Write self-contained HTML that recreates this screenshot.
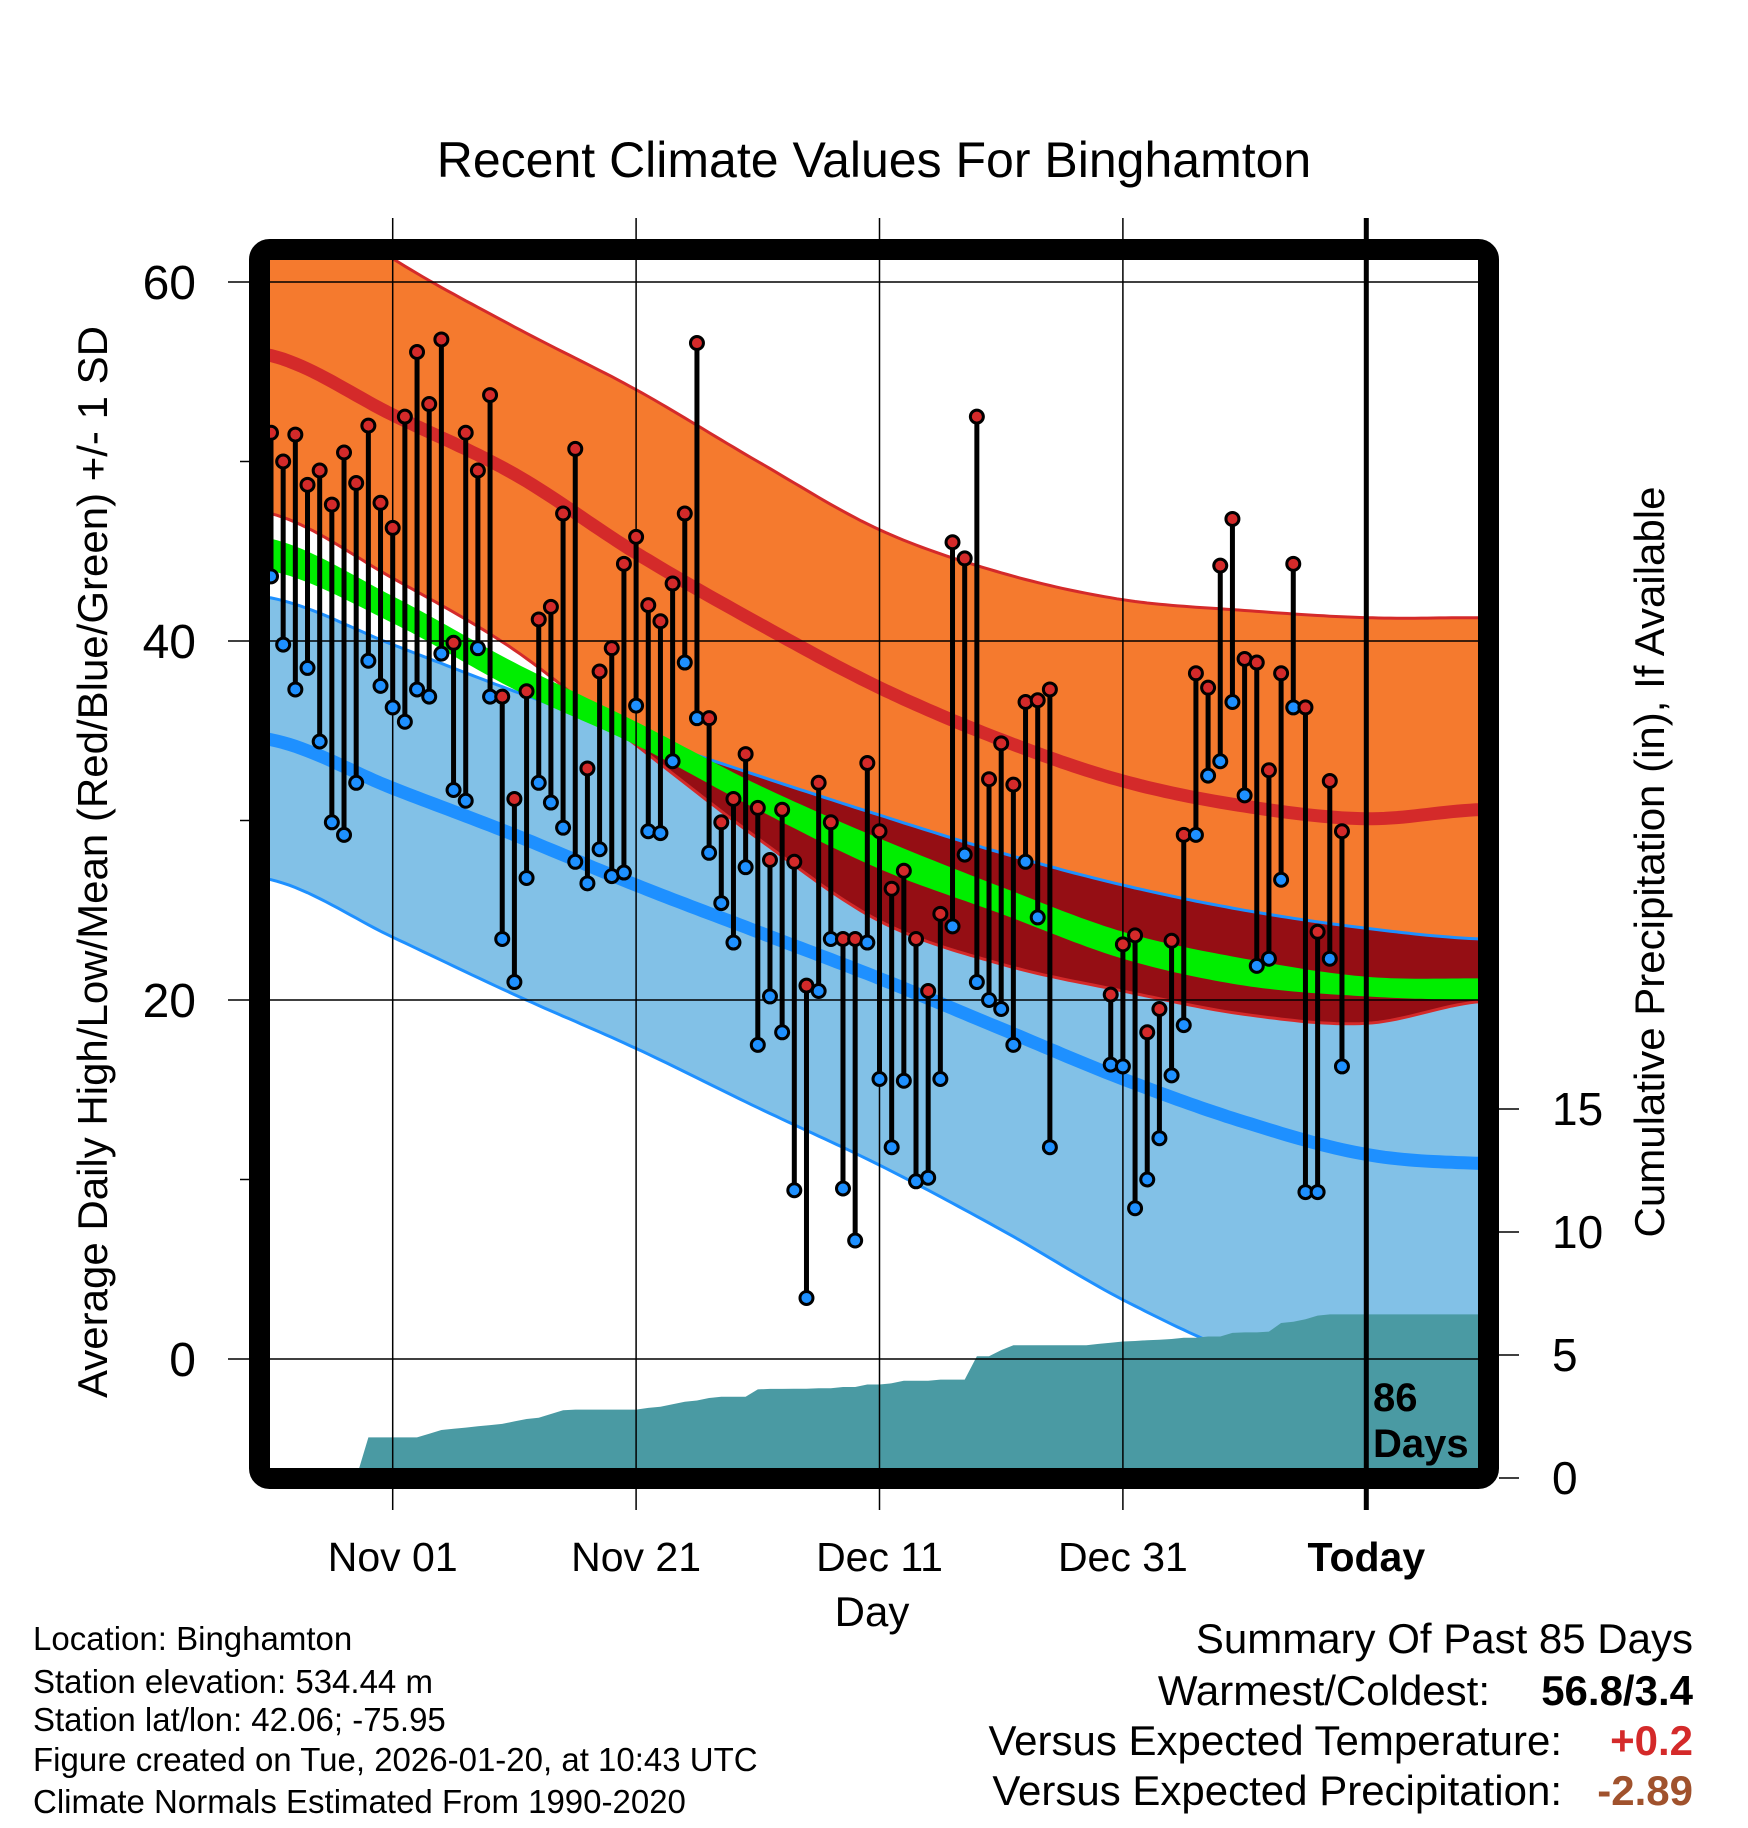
<!DOCTYPE html>
<html><head><meta charset="utf-8"><title>Recent Climate Values For Binghamton</title>
<style>
html,body{margin:0;padding:0;background:#fff;}
svg{display:block;font-family:"Liberation Sans",Arial,sans-serif;}
</style></head>
<body>
<svg id="chart" width="1748" height="1828" viewBox="0 0 1748 1828" xmlns="http://www.w3.org/2000/svg">
<defs><clipPath id="plotClip"><rect x="270" y="260" width="1208" height="1208"/></clipPath></defs>
<g id="fills" clip-path="url(#plotClip)"></g>
<g id="grid"></g>
<g id="marks" clip-path="url(#plotClip)"></g>
<rect x="259.5" y="249.5" width="1229" height="1229" rx="10" fill="none" stroke="#000" stroke-width="21"/>
<g id="axes"></g>
<text x="874" y="177" font-size="50" text-anchor="middle">Recent Climate Values For Binghamton</text>
<text x="872" y="1626" font-size="42" text-anchor="middle">Day</text>
<text transform="translate(107,862) rotate(-90)" font-size="42" text-anchor="middle">Average Daily High/Low/Mean (Red/Blue/Green) +/- 1 SD</text>
<text transform="translate(1664,862) rotate(-90)" font-size="42" text-anchor="middle">Cumulative Precipitation (in), If Available</text>
<text x="1373" y="1411" font-size="40" font-weight="bold">86</text>
<text x="1373" y="1457" font-size="40" font-weight="bold">Days</text>
<g font-size="33">
<text x="33" y="1650">Location: Binghamton</text>
<text x="33" y="1693">Station elevation: 534.44 m</text>
<text x="33" y="1731">Station lat/lon: 42.06; -75.95</text>
<text x="33" y="1771">Figure created on Tue, 2026-01-20, at 10:43 UTC</text>
<text x="33" y="1813">Climate Normals Estimated From 1990-2020</text>
</g>
<g font-size="42">
<text x="1693" y="1653" text-anchor="end">Summary Of Past 85 Days</text>
<text x="1490" y="1705" text-anchor="end">Warmest/Coldest:</text>
<text x="1693" y="1705" text-anchor="end" font-weight="bold">56.8/3.4</text>
<text x="1562" y="1755" text-anchor="end">Versus Expected Temperature:</text>
<text x="1693" y="1755" text-anchor="end" font-weight="bold" fill="#d42a2a">+0.2</text>
<text x="1562" y="1805" text-anchor="end">Versus Expected Precipitation:</text>
<text x="1693" y="1805" text-anchor="end" font-weight="bold" fill="#a0522d">-2.89</text>
</g>
</svg>
<script>
const highs=[51.6,50.0,51.5,48.7,49.5,47.6,50.5,48.8,52.0,47.7,46.3,52.5,56.1,53.2,56.8,39.9,51.6,49.5,53.7,36.9,31.2,37.2,41.2,41.9,47.1,50.7,32.9,38.3,39.6,44.3,45.8,42.0,41.1,43.2,47.1,56.6,35.7,29.9,31.2,33.7,30.7,27.8,30.6,27.7,20.8,32.1,29.9,23.4,23.4,33.2,29.4,26.2,27.2,23.4,20.5,24.8,45.5,44.6,52.5,32.3,34.3,32.0,36.6,36.7,37.3,null,null,null,null,20.3,23.1,23.6,18.2,19.5,23.3,29.2,38.2,37.4,44.2,46.8,39.0,38.8,32.8,38.2,44.3,36.3,23.8,32.2,29.4];
const lows=[43.6,39.8,37.3,38.5,34.4,29.9,29.2,32.1,38.9,37.5,36.3,35.5,37.3,36.9,39.3,31.7,31.1,39.6,36.9,23.4,21.0,26.8,32.1,31.0,29.6,27.7,26.5,28.4,26.9,27.1,36.4,29.4,29.3,33.3,38.8,35.7,28.2,25.4,23.2,27.4,17.5,20.2,18.2,9.4,3.4,20.5,23.4,9.5,6.6,23.2,15.6,11.8,15.5,9.9,10.1,15.6,24.1,28.1,21.0,20.0,19.5,17.5,27.7,24.6,11.8,null,null,null,null,16.4,16.3,8.4,10.0,12.3,15.8,18.6,29.2,32.5,33.3,36.6,31.4,21.9,22.3,26.7,36.3,9.3,9.3,22.3,16.3];
const precip=[0,0,0,0,0,0,0,0,1.65,1.65,1.65,1.65,1.65,1.8,1.95,2.0,2.05,2.1,2.15,2.2,2.3,2.4,2.45,2.6,2.75,2.78,2.78,2.78,2.78,2.78,2.78,2.85,2.9,3.0,3.1,3.15,3.25,3.3,3.3,3.3,3.6,3.62,3.62,3.63,3.63,3.65,3.65,3.7,3.7,3.8,3.8,3.85,3.95,3.95,3.95,4.0,4.0,4.0,4.95,4.95,5.2,5.4,5.4,5.4,5.4,5.4,5.4,5.4,5.45,5.5,5.55,5.57,5.6,5.62,5.65,5.7,5.7,5.75,5.75,5.9,5.92,5.92,5.95,6.3,6.35,6.45,6.6,6.65,6.65,6.65,6.65,6.65,6.65,6.65,6.65,6.65,6.65,6.65,6.65,6.65];
const normDays=[0,10,20,30,40,50,60,70,80,90,99.2];
const highMean=[55.9,52.6,49.3,44.9,41.0,37.4,34.5,32.2,30.8,30.1,30.6];
const highTop=[66,61.3,57.5,54,50,46.2,43.8,42.3,41.7,41.3,41.3];
const highBot=[47.1,43.5,39.5,34.2,29,24.4,22,20.5,19.2,18.7,19.9];
const lowMean=[34.5,31.8,29.2,26.4,23.8,21.2,18.4,15.6,13.2,11.4,10.9];
const lowTop=[42.4,39.8,37.2,34.8,32.5,30.3,28.2,26.4,25.0,24.0,23.4];
const lowBot=[26.7,23.5,20.3,17.3,14,10.8,7.2,3.3,0.2,-1.6,-2.2];
const meanTop=[45.7,42.5,38.8,35.5,32,29,26.3,23.8,22.3,21.3,21.2];
const meanBot=[43.9,41,37.3,34.2,30.6,27.3,24.8,22.3,20.8,20.2,20.0];
const yTicks=[0,20,40,60];
const yMinor=[10,30,50];
const y2Ticks=[0,5,10,15];
const xTickDays=[10,30,50,70,90];
const xTickLabels=["Nov 01","Nov 21","Dec 11","Dec 31","Today"];

const NS="http://www.w3.org/2000/svg";
const X=d=>271+d*12.17;
const Y=t=>1359-t*17.95;
const Y2=p=>1478-p*24.6;
function mk(tag,attrs,parent){const e=document.createElementNS(NS,tag);for(const k in attrs)e.setAttribute(k,attrs[k]);parent.appendChild(e);return e;}
function interp(arr,d){
  let i=0;while(i<normDays.length-2&&d>normDays[i+1])i++;
  const t=(d-normDays[i])/(normDays[i+1]-normDays[i]);
  const p0=arr[Math.max(i-1,0)],p1=arr[i],p2=arr[i+1],p3=arr[Math.min(i+2,arr.length-1)];
  return 0.5*((2*p1)+(-p0+p2)*t+(2*p0-5*p1+4*p2-p3)*t*t+(-p0+3*p1-3*p2+p3)*t*t*t);
}
const samples=[];for(let d=-1;d<=100;d+=0.5)samples.push(d);
function line(arr){return samples.map(d=>X(d).toFixed(1)+","+Y(interp(arr,d)).toFixed(1)).join(" ");}
function band(top,bot){return samples.map(d=>X(d).toFixed(1)+","+Y(interp(top,d)).toFixed(1)).concat(samples.slice().reverse().map(d=>X(d).toFixed(1)+","+Y(interp(bot,d)).toFixed(1))).join(" ");}
const fills=document.getElementById('fills');
let e;
e=mk('polygon',{points:band(lowTop,lowBot),fill:'#82c1e7'},fills);


e=mk('polygon',{points:band(highTop,highBot),fill:'#f57a2e'},fills);


const ovTop=samples.map(d=>{const a=interp(lowTop,d),b=interp(highBot,d);return a>b?a:b;});
const ovPts=samples.map((d,i)=>X(d).toFixed(1)+","+Y(ovTop[i]).toFixed(1)).concat(samples.slice().reverse().map(d=>X(d).toFixed(1)+","+Y(interp(highBot,d)).toFixed(1))).join(" ");
e=mk('polygon',{points:ovPts,fill:'#950e14'},fills);


e=mk('polyline',{points:line(highTop),fill:'none',stroke:'#d42a2a','stroke-width':3},fills);


e=mk('polyline',{points:line(highBot),fill:'none',stroke:'#d42a2a','stroke-width':3},fills);


e=mk('polyline',{points:line(lowTop),fill:'none',stroke:'#1e90ff','stroke-width':3},fills);


e=mk('polyline',{points:line(lowBot),fill:'none',stroke:'#1e90ff','stroke-width':3},fills);


e=mk('polygon',{points:band(meanTop,meanBot),fill:'#00ee00'},fills);


e=mk('polyline',{points:line(highMean),fill:'none',stroke:'#d42a2a','stroke-width':13},fills);


e=mk('polyline',{points:line(lowMean),fill:'none',stroke:'#1e90ff','stroke-width':13},fills);


let pp=[X(0)+","+Y2(0)];
precip.forEach((p,i)=>pp.push(X(i).toFixed(1)+","+Y2(p).toFixed(1)));
pp.push(X(precip.length)+","+Y2(precip[precip.length-1]));
pp.push(X(precip.length)+","+Y2(-1));pp.push(X(0)+","+Y2(-1));
e=mk('polygon',{points:pp.join(" "),fill:'#4a9aa3'},fills);



const grid=document.getElementById('grid');
yTicks.forEach(t=>{e=mk('line',{x1:228,x2:1478,y1:Y(t),y2:Y(t),stroke:'#000','stroke-width':1.5},grid);

});
yMinor.forEach(t=>{e=mk('line',{x1:240,x2:252,y1:Y(t),y2:Y(t),stroke:'#000','stroke-width':1.5},grid);

});
xTickDays.forEach((d,i)=>{e=mk('line',{x1:X(d),x2:X(d),y1:218,y2:1510,stroke:'#000','stroke-width':i==4?5:1.5},grid);

});

const marks=document.getElementById('marks');
highs.forEach((h,i)=>{const l=lows[i];if(h==null||l==null)return;
  e=mk('line',{x1:X(i),x2:X(i),y1:Y(h),y2:Y(l),stroke:'#000','stroke-width':5},marks);
  
  });
highs.forEach((h,i)=>{const l=lows[i];if(h==null||l==null)return;
  e=mk('circle',{cx:X(i),cy:Y(l),r:6.5,fill:'#1e90ff',stroke:'#000','stroke-width':3},marks);
  
  
  e=mk('circle',{cx:X(i),cy:Y(h),r:6.5,fill:'#d42a2a',stroke:'#000','stroke-width':3},marks);
  
  });

const axes=document.getElementById('axes');
yTicks.forEach(t=>{e=mk('text',{x:196,y:Y(t)+17,'font-size':48,'text-anchor':'end'},axes);e.textContent=t;

});
y2Ticks.forEach(p=>{e=mk('line',{x1:1499,x2:1519,y1:Y2(p),y2:Y2(p),stroke:'#000','stroke-width':1.5},axes);


e=mk('text',{x:1552,y:Y2(p)+16,'font-size':46},axes);e.textContent=p;

});
xTickLabels.forEach((s,i)=>{e=mk('text',{x:X(xTickDays[i]),y:1571,'font-size':41,'text-anchor':'middle','font-weight':i==4?'bold':'normal'},axes);e.textContent=s;

});
</script>
</body></html>
